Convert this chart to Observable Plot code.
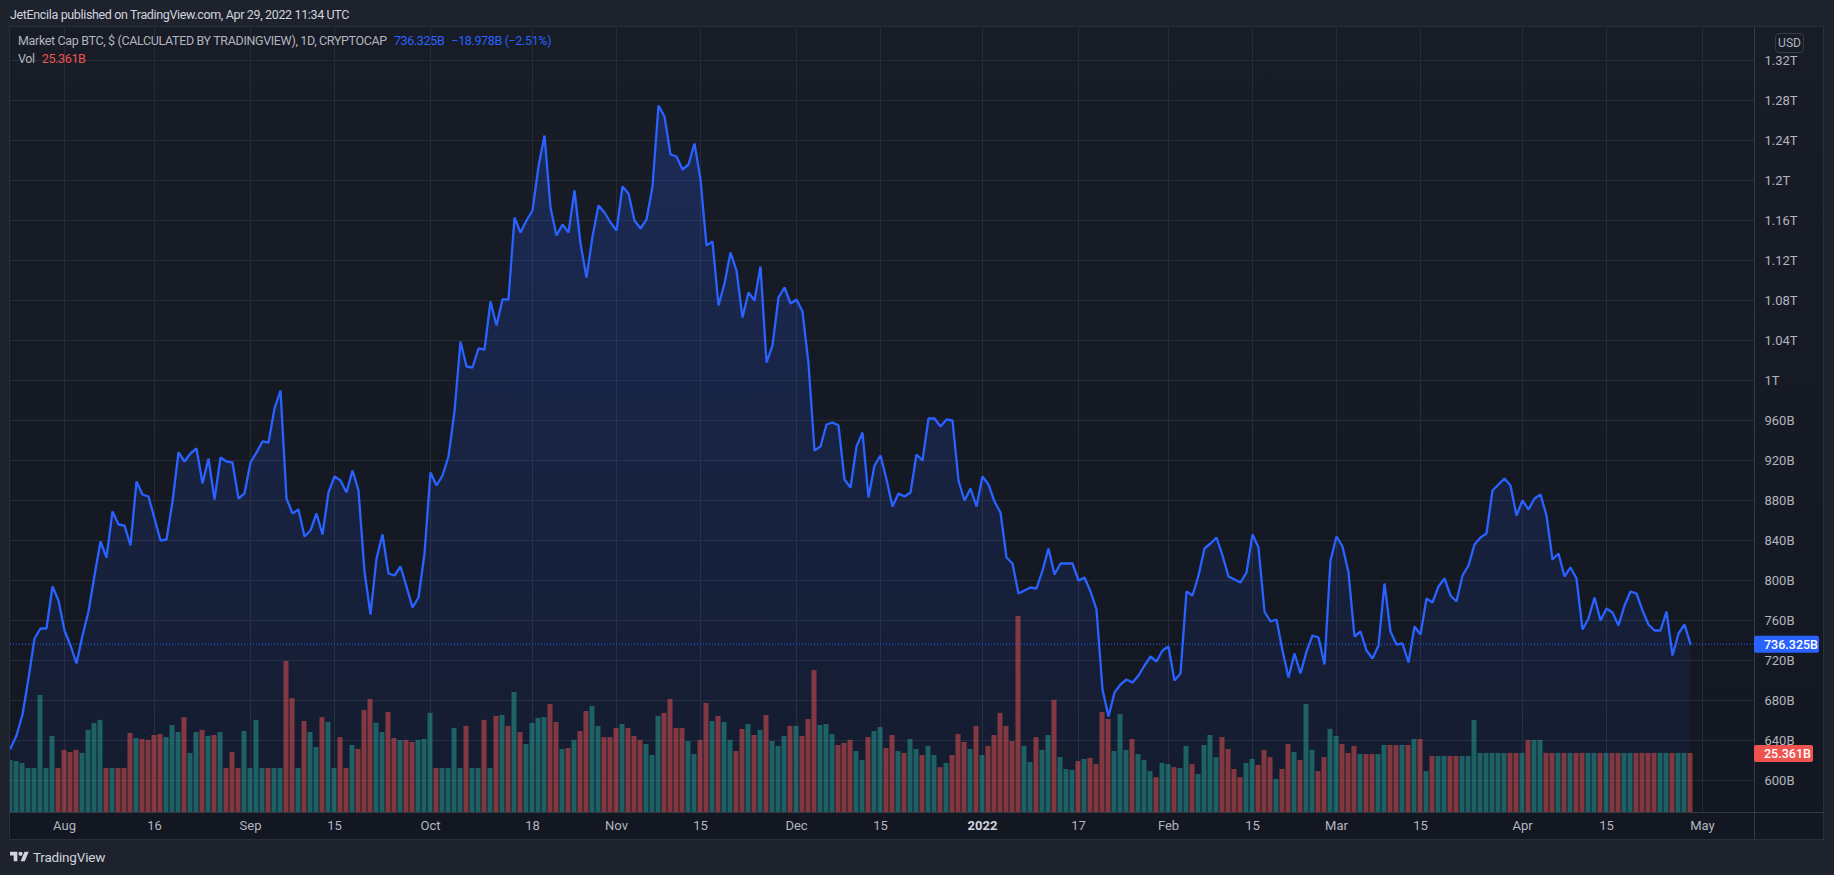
<!DOCTYPE html>
<html><head><meta charset="utf-8">
<script src="https://cdn.jsdelivr.net/npm/d3@7"></script>
<script src="https://cdn.jsdelivr.net/npm/@observablehq/plot@0.6"></script>
<style>
html,body{margin:0;padding:0;width:1834px;height:875px;overflow:hidden;background:#1e222d;font-family:"Roboto",sans-serif}
#pane{position:absolute;left:9px;top:26px;width:1813px;height:812px;border:1px solid #2a2e39;background:linear-gradient(#181c27,#131722)}
#sepV{position:absolute;left:1754px;top:27px;width:1px;height:812px;background:#363a45}
#sepH{position:absolute;left:10px;top:812px;width:1813px;height:1px;background:#363a45}
#chart{position:absolute;left:0;top:0}
.t{position:absolute;white-space:pre;font-size:12.5px;line-height:16px;letter-spacing:-.35px}
#usd{position:absolute;left:1775px;top:33px;width:27px;height:18px;border:1px solid #363a45;border-radius:4px;color:#b2b5be;font-size:12px;line-height:18px;text-align:center}
#logo{position:absolute;left:10px;top:851px}
</style></head><body>
<div id="pane"></div><div id="sepV"></div><div id="sepH"></div>
<div id="chart"></div>
<div class="t" style="left:10px;top:7px;color:#d1d4dc">JetEncila published on TradingView.com, Apr 29, 2022 11:34 UTC</div>
<div class="t" style="left:18px;top:33px;color:#b2b5be">Market Cap BTC, $ (CALCULATED BY TRADINGVIEW), 1D, CRYPTOCAP<span style="color:#2962ff;margin-left:7px">736.325B</span><span style="color:#2962ff;margin-left:7px">−18.978B (−2.51%)</span></div>
<div class="t" style="left:18px;top:51px;color:#b2b5be">Vol<span style="color:#ef5350;margin-left:7px">25.361B</span></div>
<div id="usd">USD</div>
<svg id="logo" width="19" height="11" viewBox="0 4 36 18"><path fill="#d1d4dc" d="M14 22H7V11H0V4h14v18zM28 22h-8l7.5-18h8L28 22z"/><circle fill="#d1d4dc" cx="20" cy="8" r="4"/></svg>
<div class="t" style="left:33px;top:849px;color:#d1d4dc;font-size:13.5px;letter-spacing:-.2px">TradingView</div>
<script>
const firstDay = "2021-07-23";
const lastPrice = 736.325;
const lastVolume = 25.361;
// Market cap in billions of USD, one value per day from firstDay
const marketCap = [
632,645,666,702,742,752,752,794,780,750,
735,717,745,769,805,839,823,869,856,855,
835,899,886,884,862,840,841,879,928,919,
927,932,897,922,881,923,919,918,882,887,
918,928,939,938,972,990,882,867,871,844,
850,867,846,888,904,900,888,910,890,809,
766,822,846,807,805,814,794,773,783,827,
908,895,905,924,969,1039,1014,1013,1032,1031,
1079,1055,1081,1081,1163,1148,1160,1170,1214,1245,
1173,1145,1156,1148,1190,1137,1103,1144,1175,1168,
1158,1150,1194,1187,1160,1152,1161,1194,1275,1264,
1226,1224,1211,1216,1237,1201,1135,1139,1075,1097,
1128,1110,1063,1088,1080,1114,1018,1035,1083,1093,
1077,1081,1069,1017,930,934,956,958,955,901,
893,934,948,883,915,925,901,874,887,884,
888,926,920,962,962,954,961,960,900,880,
892,874,904,896,879,868,823,817,787,790,
793,792,810,832,806,817,817,817,800,803,
789,771,691,664,688,696,701,698,705,715,
724,719,730,734,700,707,789,785,805,832,
837,843,825,804,801,798,808,846,833,769,
759,761,730,703,727,707,729,745,743,716,
820,844,834,808,744,749,730,722,735,797,
749,736,737,718,754,746,782,778,794,802,
785,779,805,815,836,843,847,890,896,902,
895,865,880,871,882,886,865,821,827,804,
813,802,751,762,783,760,772,768,755,775,
789,787,770,756,750,750,769,725,747,756,
736.325];
// Daily volume in billions of USD
const volume = [
22.4,21.9,21.1,18.9,18.9,50.3,18.9,32.7,18.9,26.7,
25.8,26.7,25.4,35.3,38.3,39.6,18.9,18.9,18.9,18.9,
34.0,31.8,31.4,31.0,33.1,33.5,32.2,37.4,34.4,40.8,
25.4,34.4,35.3,32.7,33.1,34.4,18.9,25.8,18.9,34.8,
18.9,39.6,18.9,18.9,18.9,18.9,64.9,49.0,18.9,39.1,
34.4,27.9,40.8,38.7,18.9,32.2,18.9,28.8,27.1,43.8,
48.6,38.3,34.4,43.0,31.8,31.0,31.0,30.1,31.0,31.4,
42.6,18.9,18.9,18.9,36.1,18.9,37.0,18.9,18.9,39.6,
18.9,41.3,41.7,37.0,51.6,34.4,29.2,38.3,40.4,40.8,
46.4,38.7,27.1,27.5,31.0,34.8,43.4,45.6,37.0,32.2,
32.2,36.1,37.8,36.1,32.7,31.0,29.2,24.5,41.3,42.6,
48.6,36.1,36.1,30.5,24.9,31.0,46.9,39.1,41.3,38.7,
31.0,26.2,35.7,37.8,33.1,35.3,41.7,30.5,28.4,32.7,
37.0,37.0,32.7,40.0,61.0,37.4,37.8,33.5,28.8,29.7,
31.0,26.2,22.4,32.2,34.8,36.5,27.5,33.1,26.2,25.4,
31.4,27.1,24.5,28.4,24.5,19.3,21.1,24.5,33.5,30.1,
27.1,37.0,24.5,28.4,33.1,42.6,37.0,30.5,84.3,28.4,
21.5,32.2,26.7,33.1,48.2,23.6,18.5,18.1,21.9,22.8,
23.2,20.6,43.0,40.0,26.2,42.1,26.7,31.4,24.9,22.4,
17.6,15.0,21.1,20.6,19.3,18.9,28.4,20.6,16.3,28.8,
33.1,23.6,32.2,27.1,18.5,15.0,21.1,22.8,20.2,26.7,
23.6,14.2,18.5,29.2,25.8,22.4,46.4,26.7,17.6,23.6,
35.7,32.7,29.2,25.4,28.4,24.9,24.9,24.9,24.9,28.8,
28.8,28.8,28.8,28.8,31.4,31.4,17.6,24.1,24.1,24.1,
24.1,24.1,24.1,24.1,39.6,25.4,25.4,25.4,25.4,25.4,
25.4,25.4,25.4,31.0,31.0,31.0,25.4,25.4,25.4,25.4,
25.4,25.4,25.4,25.4,25.4,25.4,25.4,25.4,25.4,25.4,
25.4,25.4,25.4,25.4,25.4,25.4,25.4,25.4,25.4,25.4,
25.361];
// 1 = teal (up) volume bar, 0 = red (down) volume bar
const volumeUp = [
1,1,1,1,1,1,1,1,0,0,
0,0,1,1,1,1,0,1,0,0,
0,1,0,0,0,0,1,1,1,0,
1,1,0,1,0,1,0,0,0,1,
1,1,1,0,1,1,0,0,1,0,
1,1,0,1,1,0,0,1,0,0,
0,1,1,0,0,1,0,0,1,1,
1,0,1,1,1,1,0,1,1,0,
1,0,1,0,1,0,1,1,1,1,
0,0,1,0,1,0,0,1,1,0,
0,0,1,0,0,0,1,1,1,0,
0,0,0,1,1,0,0,1,0,1,
1,0,0,1,0,1,0,1,1,1,
0,1,0,0,0,1,1,1,0,0,
0,1,1,0,1,1,0,0,1,0,
1,1,0,1,1,0,1,0,0,0,
1,0,1,0,0,0,0,0,0,1,
1,0,1,1,0,1,1,1,0,1,
0,0,0,0,1,1,1,0,1,1,
1,0,1,1,0,1,1,0,1,1,
1,1,0,0,0,0,1,1,0,0,
0,1,0,0,1,0,1,1,0,0,
1,1,0,0,0,1,0,0,1,1,
0,0,1,0,1,0,1,0,1,1,
0,0,1,1,1,1,1,1,1,1,
0,0,1,0,1,1,0,0,1,0,
1,0,0,1,1,0,1,0,0,1,
1,0,0,0,0,1,1,0,1,1,
0];
const priceTicks = [600,640,680,720,760,800,840,880,920,960,1000,1040,1080,1120,1160,1200,1240,1280,1320];
const timeTickDays = ["2021-08-01","2021-08-16","2021-09-01","2021-09-15","2021-10-01","2021-10-18","2021-11-01","2021-11-15","2021-12-01","2021-12-15","2022-01-17","2022-02-01","2022-02-15","2022-03-01","2022-03-15","2022-04-01","2022-04-15","2022-05-01"];
const timeTickLabels = ["Aug","16","Sep","15","Oct","18","Nov","15","Dec","15","17","Feb","15","Mar","15","Apr","15","May"];
const yearTickDays = ["2022-01-01"];
const yearTickLabels = ["2022"];

const DAY = 864e5;
const start = new Date(firstDay + "T00:00:00Z");
const dateOf = i => new Date(+start + i * DAY);
const rows = marketCap.map((price, i) => ({date: dateOf(i), price, volume: volume[i], up: volumeUp[i]}));

// visible window of the chart
const priceDomain = [568, 1353];
const timeDomain = [start, dateOf(1744 / 6)];
// volume shares the pane with the price, on its own compressed scale
const volumeOnPrice = v => priceDomain[0] + v * 59 / lastVolume;
const priceLabel = v => v < 1000 ? v + "B" : (v / 1000) + "T";
const toDate = s => new Date(s + "T00:00:00Z");
const labelMap = new Map(timeTickDays.map((d, i) => [+toDate(d), timeTickLabels[i]]));
const yearMap = new Map(yearTickDays.map((d, i) => [+toDate(d), yearTickLabels[i]]));
const gridDays = [...timeTickDays, ...yearTickDays].map(toDate);
const gridColor = "#272b36", lineColor = "#2962ff";

const gradientDefs = () => {
  const defs = d3.create("svg:defs");
  const g = defs.append("linearGradient").attr("id", "capFill").attr("x1", 0).attr("y1", 0).attr("x2", 0).attr("y2", 1);
  g.append("stop").attr("offset", "0%").attr("stop-color", lineColor).attr("stop-opacity", 0.22);
  g.append("stop").attr("offset", "100%").attr("stop-color", lineColor).attr("stop-opacity", 0.05);
  return defs.node();
};
const tags = [
  {y: lastPrice, text: "736.325B", fill: lineColor, w: 65},
  {y: volumeOnPrice(lastVolume), text: "25.361B", fill: "#ef5350", w: 59}
];
const tagMark = (index, scales, values, dim) => {
  const g = d3.create("svg:g");
  for (const t of tags) {
    const cy = scales.y(t.y) + 0.5, x0 = dim.width - dim.marginRight;
    g.append("rect").attr("x", x0).attr("y", cy - 8.5).attr("width", t.w).attr("height", 17).attr("rx", 2).attr("fill", t.fill);
    g.append("text").attr("x", x0 + 10).attr("y", cy).attr("dy", "0.35em").attr("text-anchor", "start").attr("fill", "#fff").attr("font-size", 12.5).attr("font-weight", 500).text(t.text);
  }
  return g.node();
};

const plot = Plot.plot({
  width: 1834, height: 875,
  marginLeft: 10, marginRight: 80, marginTop: 27, marginBottom: 63,
  style: {background: "transparent", fontFamily: "Roboto, sans-serif", fontSize: "13px", color: "#b2b5be"},
  x: {type: "utc", domain: timeDomain},
  y: {domain: priceDomain},
  marks: [
    gradientDefs,
    Plot.ruleY(priceTicks, {stroke: gridColor, strokeOpacity: 1}),
    Plot.ruleX(gridDays, {stroke: gridColor, strokeOpacity: 1}),
    Plot.areaY(rows, {x: "date", y1: priceDomain[0], y2: "price", fill: "url(#capFill)", clip: true}),
    Plot.rect(rows, {
      x1: d => new Date(+d.date - DAY * 2.5 / 6),
      x2: d => new Date(+d.date + DAY * 2.5 / 6),
      y1: priceDomain[0],
      y2: d => volumeOnPrice(d.volume),
      fill: d => d.up ? "rgb(38,166,154)" : "rgb(239,83,80)",
      fillOpacity: 0.5,
      clip: true
    }),
    Plot.line(rows, {x: "date", y: "price", stroke: lineColor, strokeWidth: 2.3, strokeLinejoin: "miter", clip: true}),
    Plot.ruleY([lastPrice], {stroke: lineColor, strokeWidth: 1, strokeDasharray: "1 2", strokeOpacity: 1}),
    Plot.axisY({anchor: "right", ticks: priceTicks, tickSize: 0, tickPadding: 10, label: null, tickFormat: priceLabel, fill: "#b2b5be", fontSize: 13, textAnchor: "start"}),
    Plot.axisX({anchor: "bottom", ticks: timeTickDays.map(toDate), tickSize: 0, tickPadding: 8, label: null, tickFormat: d => labelMap.get(+d), fill: "#b2b5be", fontSize: 13}),
    Plot.axisX({anchor: "bottom", ticks: yearTickDays.map(toDate), tickSize: 0, tickPadding: 8, label: null, tickFormat: d => yearMap.get(+d), fill: "#d1d4dc", fontSize: 13, fontWeight: 700}),
    tagMark
  ]
});
document.getElementById("chart").append(plot);
</script>
</body></html>
